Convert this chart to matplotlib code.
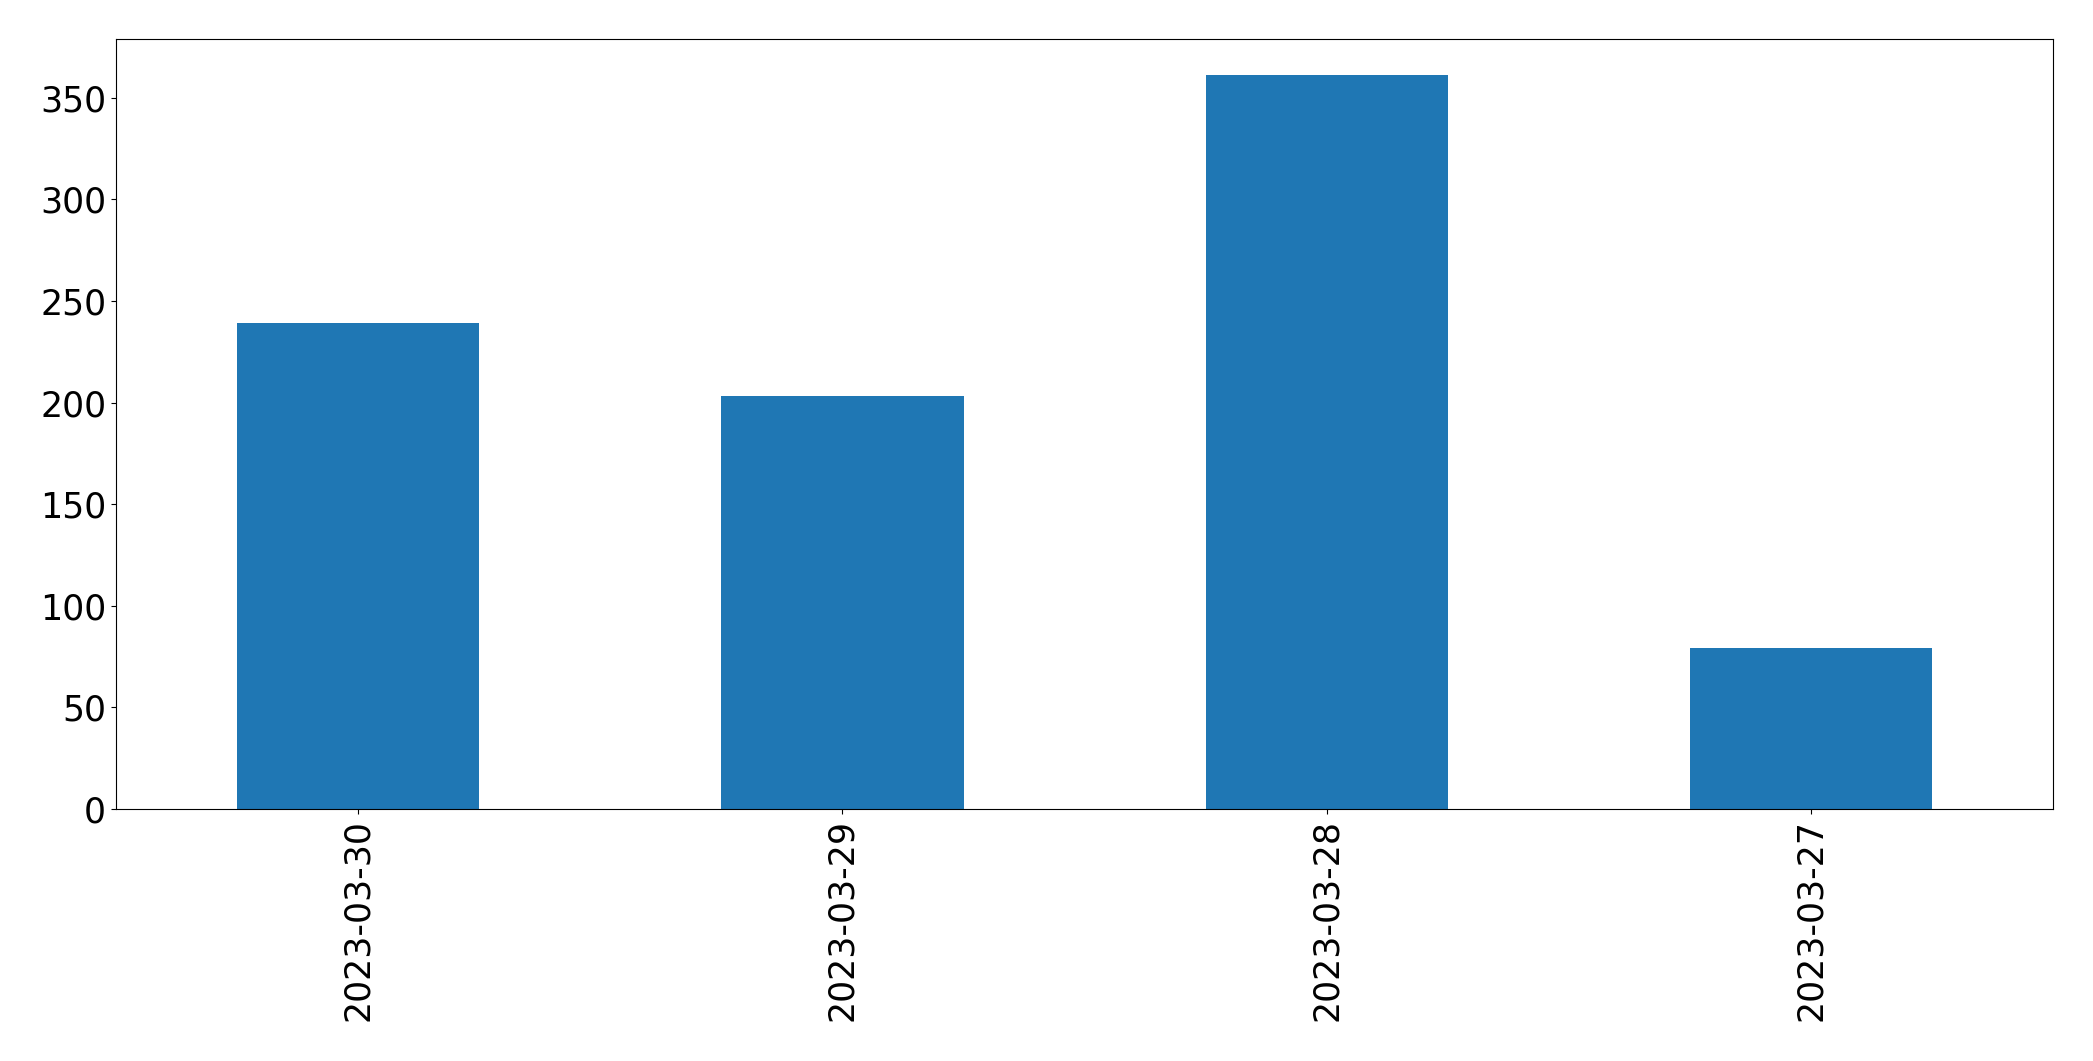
import matplotlib
matplotlib.use("Agg")
import matplotlib.pyplot as plt

dates = ["2023-03-30", "2023-03-29", "2023-03-28", "2023-03-27"]
counts = [239, 203, 361, 79]

fig = plt.figure(figsize=(20.93, 10.61), dpi=100)
ax = fig.add_axes([0.0554, 0.2375, 0.9256, 0.726])

pos = range(len(dates))
ax.bar(pos, counts, width=0.5, color="#1f77b4")
ax.set_xlim(-0.5, len(dates) - 0.5)
ax.set_xticks(list(pos))
ax.set_xticklabels(dates, rotation=90)
ax.tick_params(labelsize=25)

fig.savefig("out.png", dpi=100)
